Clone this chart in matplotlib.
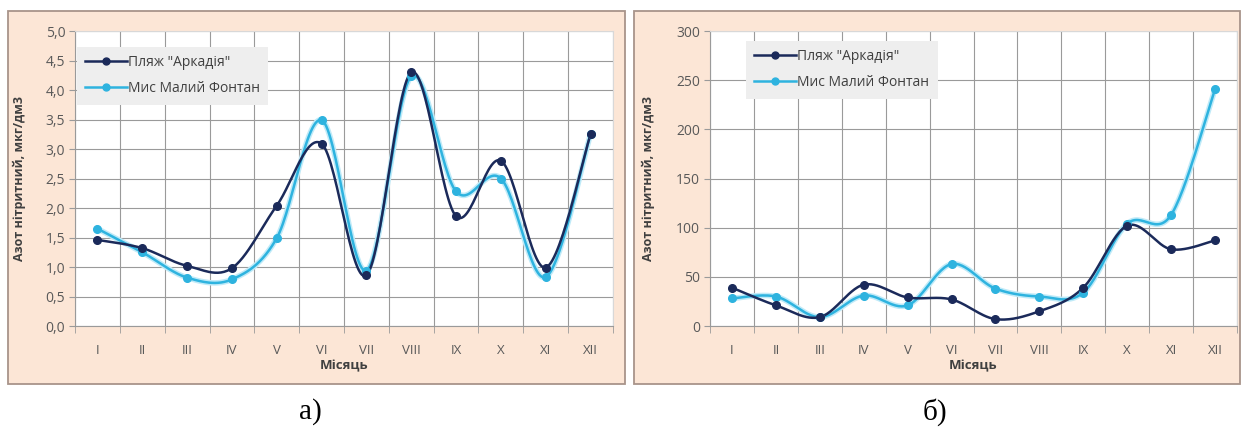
import numpy as np
import matplotlib.pyplot as plt
import matplotlib.patches as patches
import matplotlib.patheffects as pe
from matplotlib.lines import Line2D

plt.rcParams['font.family'] = ['Open Sans', 'DejaVu Sans']

months = ['I', 'II', 'III', 'IV', 'V', 'VI', 'VII', 'VIII', 'IX', 'X', 'XI', 'XII']
series_names = ['Пляж "Аркадія"', 'Мис Малий Фонтан']

# а) азот нітритний, мкг/дм3
arkadia_a = [1.46, 1.32, 1.02, 0.98, 2.04, 3.09, 0.86, 4.30, 1.86, 2.80, 0.99, 3.25]
fontan_a = [1.65, 1.25, 0.82, 0.79, 1.49, 3.49, 0.94, 4.23, 2.28, 2.50, 0.83, 3.25]

# б)
arkadia_b = [39, 21, 9, 42, 29, 27, 7, 15, 39, 102, 78, 87]
fontan_b = [28, 30, 9, 31, 21, 63, 38, 30, 34, 104, 113, 241]

dark = '#1b2a5a'
light = '#2eb3df'
grid_c = '#9a9a9a'
tick_c = '#595959'


def smooth(y, n=30):
    # згладжування як в Excel (Catmull-Rom через Безьє)
    x = np.arange(1, len(y) + 1, dtype=float)
    p = np.column_stack([x, np.asarray(y, dtype=float)])
    pts = []
    for i in range(len(p) - 1):
        p0 = p[i - 1] if i > 0 else p[i]
        p1, p2 = p[i], p[i + 1]
        p3 = p[i + 2] if i + 2 < len(p) else p[i + 1]
        c1 = p1 + (p2 - p0) / 6
        c2 = p2 - (p3 - p1) / 6
        t = np.linspace(0, 1, n)[:, None]
        seg = ((1 - t) ** 3) * p1 + 3 * ((1 - t) ** 2) * t * c1 + 3 * (1 - t) * t ** 2 * c2 + t ** 3 * p2
        pts.append(seg if i == 0 else seg[1:])
    pts = np.vstack(pts)
    return pts[:, 0], pts[:, 1]


fig = plt.figure(figsize=(12.43, 4.4), dpi=100)

# рамки діаграм
W, H = 1243, 440
for x0, x1 in [(8, 625), (634, 1240)]:
    fig.patches.append(patches.Rectangle((x0 / W, 1 - 384 / H), (x1 - x0) / W, (384 - 11) / H,
                                         transform=fig.transFigure, facecolor='#fce6d6',
                                         edgecolor='#a8948a', linewidth=1.3, zorder=-5))


def draw(ax, a, f, ylim, step, fmt, legend_box):
    ax.set_facecolor('white')
    x = np.arange(1, len(months) + 1)
    for vals, c, glow in [(f, light, True), (a, dark, False)]:
        xs, ys = smooth(vals)
        eff = [pe.Stroke(linewidth=4, foreground='#bfeaf8'), pe.Normal()] if glow else None
        ax.plot(xs, ys, color=c, lw=1.8, zorder=3, path_effects=eff)
        ax.plot(x, vals, 'o', color=c, ms=5.5, zorder=4)
    ax.set_xlim(0.5, 12.5)
    ax.set_ylim(*ylim)
    ax.set_yticks(np.arange(ylim[0], ylim[1] + step / 2, step))
    ax.set_yticklabels([fmt(v) for v in ax.get_yticks()])
    ax.set_xticks(x)
    ax.set_xticklabels(months)
    ax.set_xticks(np.arange(0.5, 13, 1), minor=True)
    ax.tick_params(axis='x', which='major', length=0, pad=13, labelsize=9.5, colors=tick_c)
    ax.tick_params(axis='x', which='minor', length=5, color=grid_c)
    ax.tick_params(axis='y', length=4, color=grid_c, labelsize=10, colors=tick_c, pad=3)
    ax.grid(True, which='minor', axis='x', color=grid_c, lw=0.8)
    ax.grid(True, which='major', axis='y', color=grid_c, lw=0.8)
    for s in ['top', 'right']:
        ax.spines[s].set_color('#d8d8d8')
    for s in ['left', 'bottom']:
        ax.spines[s].set_color(grid_c)
    ax.set_axisbelow(True)
    ax.set_xlabel('Місяць', fontsize=9.5, fontweight='bold', color='#404040', labelpad=2)
    ax.set_ylabel('Азот нітритний, мкг/дм3', fontsize=9, fontweight='bold', color='#404040')
    handles = [Line2D([], [], color=dark, marker='o', ms=5, lw=1.8),
               Line2D([], [], color=light, marker='o', ms=5, lw=1.8)]
    leg = ax.legend(handles, series_names, loc='upper left', bbox_to_anchor=legend_box,
                    frameon=True, fancybox=False, fontsize=10, handlelength=3,
                    labelcolor='#404040', borderpad=0.6, labelspacing=0.8, handletextpad=0.1)
    leg.get_frame().set_facecolor('#eeeeee')
    leg.get_frame().set_edgecolor('none')
    leg.get_frame().set_alpha(1)


ax1 = fig.add_axes([75 / W, 1 - 326 / H, 538 / W, 295 / H])
draw(ax1, arkadia_a, fontan_a, (0, 5), 0.5, lambda v: f'{v:.1f}'.replace('.', ','), (-0.01, 0.97))
ax1.yaxis.set_label_coords(-0.092, 0.5)

ax2 = fig.add_axes([710 / W, 1 - 326 / H, 527 / W, 295 / H])
draw(ax2, arkadia_b, fontan_b, (0, 300), 50, lambda v: f'{v:.0f}', (0.055, 0.99))
ax2.yaxis.set_label_coords(-0.104, 0.5)

fig.text(310 / W, 1 - 412 / H, 'а)', fontsize=21, family='Liberation Serif', ha='center', va='center')
fig.text(935 / W, 1 - 412 / H, 'б)', fontsize=21, family='Liberation Serif', ha='center', va='center')

fig.savefig('out.png', dpi=100)
